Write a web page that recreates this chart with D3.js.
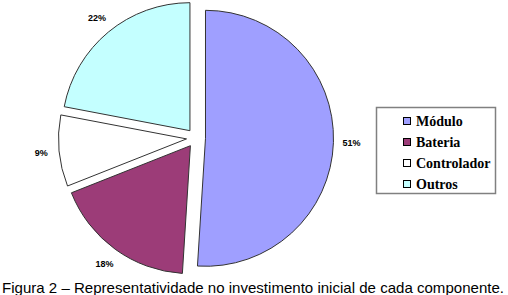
<!DOCTYPE html>
<html>
<head>
<meta charset="utf-8">
<script src="https://cdn.jsdelivr.net/npm/d3@7"></script>
<style>
  body { margin: 0; background: #fff; }
  svg { display: block; }
</style>
</head>
<body>
<div id="chart"></div>
<script>
var categories = ["Módulo", "Bateria", "Controlador", "Outros"];
var values = [51, 18, 9, 22];
var colors = ["#9f9fff", "#9c3c78", "#ffffff", "#c4ffff"];
var caption = "Figura 2 – Representatividade no investimento inicial de cada componente.";

var width = 508, height = 295;
var cx = 196, cy = 138, radius = 128, explode = 9.5, labelR = 146;

var svg = d3.select("#chart")
  .append("svg")
    .attr("width", width)
    .attr("height", height);

var data = categories.map(function(c, i) { return {name: c, value: values[i], color: colors[i]}; });

var pie = d3.pie()
  .sort(null)
  .value(function(d) { return d.value; });

var arc = d3.arc()
  .innerRadius(0)
  .outerRadius(radius);

var arcs = pie(data);

function offset(d, r) {
  var a = (d.startAngle + d.endAngle) / 2;
  return [Math.sin(a) * r, -Math.cos(a) * r];
}

var g = svg.append("g")
  .attr("transform", "translate(" + cx + "," + cy + ")");

g.selectAll("path")
  .data(arcs)
  .enter()
  .append("path")
    .attr("transform", function(d) { var o = offset(d, explode); return "translate(" + o[0] + "," + o[1] + ")"; })
    .attr("d", arc)
    .attr("fill", function(d) { return d.data.color; })
    .attr("stroke", "#333")
    .attr("stroke-width", 1);

g.selectAll("text.lbl")
  .data(arcs)
  .enter()
  .append("text")
    .attr("class", "lbl")
    .attr("x", function(d) { return offset(d, explode + labelR)[0]; })
    .attr("y", function(d) { return offset(d, explode + labelR)[1] + 3; })
    .attr("text-anchor", "middle")
    .style("font-family", "Arial, 'Liberation Sans', sans-serif")
    .style("font-weight", "bold")
    .style("font-size", "9px")
    .text(function(d) { return d.data.value + "%"; });

// legend
var legend = svg.append("g");
legend.append("rect")
  .attr("x", 376.5)
  .attr("y", 107.5)
  .attr("width", 119)
  .attr("height", 86)
  .attr("fill", "#fff")
  .attr("stroke", "#808080")
  .attr("stroke-width", 1.5);

var ly = d3.scalePoint()
  .domain(categories)
  .range([121, 184]);

var items = legend.selectAll("g.item")
  .data(data)
  .enter()
  .append("g")
    .attr("class", "item")
    .attr("transform", function(d) { return "translate(403," + ly(d.name) + ")"; });

items.append("rect")
  .attr("x", 0.5)
  .attr("y", -3.5)
  .attr("width", 7)
  .attr("height", 7)
  .attr("fill", function(d) { return d.color; })
  .attr("stroke", "#000");

items.append("text")
  .attr("x", 13)
  .attr("y", 4.5)
  .style("font-family", "'Times New Roman', 'Liberation Serif', serif")
  .style("font-weight", "bold")
  .style("font-size", "14px")
  .text(function(d) { return d.name; });

svg.append("text")
  .attr("x", 2)
  .attr("y", 293)
  .attr("textLength", 502)
  .attr("lengthAdjust", "spacingAndGlyphs")
  .style("font-family", "Arial, 'Liberation Sans', sans-serif")
  .style("font-size", "15px")
  .text(caption);
</script>
</body>
</html>
